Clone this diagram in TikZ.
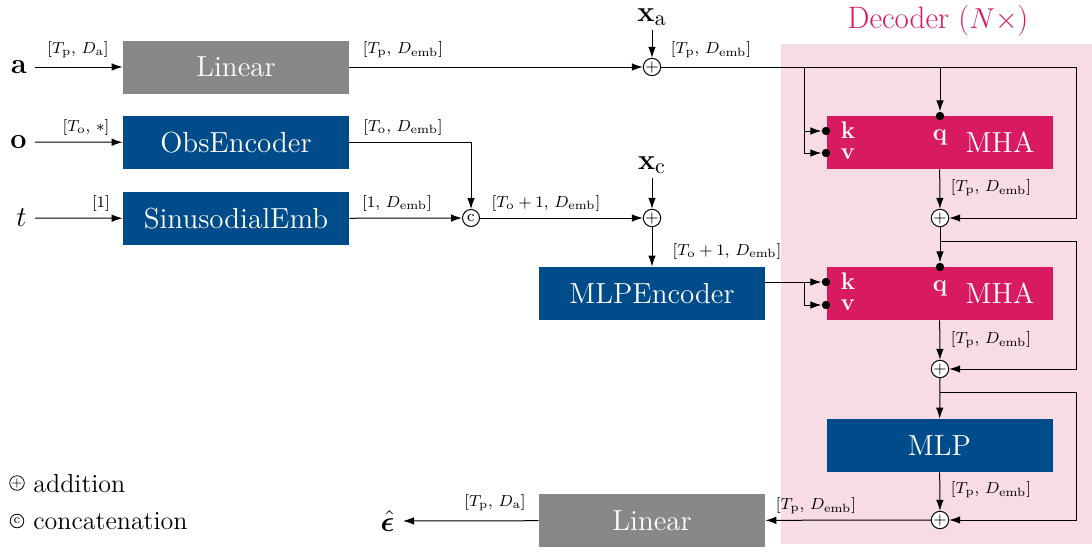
\documentclass[tikz,border=0pt]{standalone}
\usepackage{amsmath,amssymb,bm}
\usetikzlibrary{arrows.meta,calc}
\definecolor{dblue}{HTML}{004C8A}
\definecolor{dpink}{HTML}{D81B60}
\definecolor{lpink}{HTML}{F8DCE5}
\definecolor{dgray}{HTML}{888888}
\newcommand{\boxfont}{\fontsize{14.5}{17}\selectfont}
\newcommand{\legfont}{\fontsize{13}{16}\selectfont}
\newcommand{\lblfont}{\fontsize{8}{10}\selectfont}
\newcommand{\inpfont}{\fontsize{15}{18}\selectfont}
\tikzset{
  blk/.style={minimum width=113pt, minimum height=26.5pt, inner sep=0pt, text=white, font=\boxfont},
  graybox/.style={blk, fill=dgray},
  bluebox/.style={blk, fill=dblue},
  pinkbox/.style={blk, fill=dpink},
  opnode/.style={circle, draw, fill=white, inner sep=0pt, minimum size=8.5pt, line width=0.5pt, font=\fontsize{8}{8}\selectfont},
  legop/.style={circle, draw, inner sep=0pt, minimum size=6.8pt, line width=0.4pt, font=\fontsize{6.5}{6.5}\selectfont},
  dotnode/.style={circle, fill=black, inner sep=0pt, minimum size=4.2pt},
  lbl/.style={font=\lblfont, inner sep=0pt},
  inp/.style={font=\inpfont, inner sep=4pt},
  kvq/.style={font=\fontsize{11.5}{12}\selectfont, text=white, inner sep=0pt},
  conn/.style={line width=0.5pt},
  arr/.style={conn, -{Latex[length=5.5pt,width=3.8pt]}},
}
\begin{document}
\begin{tikzpicture}[x=0.5pt,y=-0.5pt]
\useasboundingbox (0,0) rectangle (1092,552);
% decoder background
\fill[lpink] (781,44) rectangle (1092,544);
\node[text=dpink, font=\fontsize{15.5}{18}\selectfont] (dectitle) at (938,21) {Decoder ($N\times$)};

% blocks
\node[graybox] (lin1) at (236,67) {Linear};
\node[bluebox] (obs) at (236,142.5) {ObsEncoder};
\node[bluebox] (sin) at (236,218.5) {SinusodialEmb};
\node[bluebox] (mlpenc) at (652,293.5) {MLPEncoder};
\node[pinkbox] (mha1) at (939.5,142.5) {};
\node[pinkbox] (mha2) at (939.5,293.5) {};
\node[bluebox] (mlp) at (939.5,445.5) {MLP};
\node[graybox] (lin2) at (652,520.5) {Linear};
\node[text=white, font=\boxfont, inner sep=0pt] (mhat1) at (1000,142.5) {MHA};
\node[text=white, font=\boxfont, inner sep=0pt] (mhat2) at (1000,293.5) {MHA};

% inputs
\node[inp, anchor=east] (a) at (35,67) {$\mathbf{a}$};
\node[inp, anchor=east] (o) at (35,142) {$\mathbf{o}$};
\node[inp, anchor=east] (t) at (35,218) {$t$};
\node[inp, inner sep=2pt] (xa) at (652,17) {$\mathbf{x}_\mathrm{a}$};
\node[inp, inner sep=2pt] (xc) at (652,165) {$\mathbf{x}_\mathrm{c}$};
\node[inp, anchor=east] (eps) at (403,521) {$\hat{\bm{\epsilon}}$};

% operators
\node[opnode] (pa) at (652,67) {$+$};
\node[opnode] (cat) at (471,218) {c};
\node[opnode] (pc) at (652,218) {$+$};
\node[opnode] (p1) at (940,218) {$+$};
\node[opnode] (p2) at (940,369) {$+$};
\node[opnode] (p3) at (940,520) {$+$};

% attention ports
\node[dotnode] (k1) at (826,131) {};
\node[dotnode] (v1) at (826,153) {};
\node[dotnode] (q1) at (940,116) {};
\node[dotnode] (k2) at (826,282) {};
\node[dotnode] (v2) at (826,305) {};
\node[dotnode] (q2) at (940,267) {};
\node[kvq] (k1t) at (848,130) {$\mathbf{k}$};
\node[kvq] (v1t) at (848,154) {$\mathbf{v}$};
\node[kvq] (q1t) at (940,137) {$\mathbf{q}$};
\node[kvq] (k2t) at (848,281) {$\mathbf{k}$};
\node[kvq] (v2t) at (848,305) {$\mathbf{v}$};
\node[kvq] (q2t) at (940,288) {$\mathbf{q}$};

% routing coordinates
\coordinate (brx) at (804,0);
\coordinate (rx) at (1076,0);
\coordinate (r1) at (940,241);
\coordinate (r2) at (940,392);

% connectors
\draw[arr] (a) -- (lin1);
\draw[arr] (o) -- (obs);
\draw[arr] (t) -- (sin);
\draw[arr] (lin1) -- (pa);
\draw[arr] (xa) -- (pa);
\draw[arr] (obs.east) -| (cat);
\draw[arr] (sin) -- (cat);
\draw[arr] (cat) -- (pc);
\draw[arr] (xc) -- (pc);
\draw[arr] (pc) -- (mlpenc);

% decoder layer 1
\draw[conn] (pa.east) -- (rx |- pa);
\draw[arr] (rx |- pa) -- (rx |- p1) -- (p1);
\draw[arr] (q1 |- pa) -- (q1);
\draw[arr] (brx |- pa) |- (k1);
\draw[arr] (brx |- k1) |- (v1);
\draw[arr] (mha1) -- (p1);
% layer 2
\draw[arr] (p1) -- (q2);
\draw[arr] (r1) -- (rx |- r1) -- (rx |- p2) -- (p2);
\draw[arr] (mlpenc.east |- k2) -- (k2);
\draw[arr] (brx |- k2) |- (v2);
\draw[arr] (mha2) -- (p2);
% MLP
\draw[arr] (p2) -- (mlp);
\draw[arr] (r2) -- (rx |- r2) -- (rx |- p3) -- (p3);
\draw[arr] (mlp) -- (p3);
\draw[arr] (p3) -- (lin2);
\draw[arr] (lin2) -- (eps);

% dimension labels
\node[lbl] (l1) at (78,50) {$[T_\mathrm{p},\,D_\mathrm{a}]$};
\node[lbl] (l2) at (86,127) {$[T_\mathrm{o},\,*]$};
\node[lbl] (l3) at (101,203) {$[1]$};
\node[lbl] (l4) at (403,50) {$[T_\mathrm{p},\,D_\mathrm{emb}]$};
\node[lbl] (l5) at (403,127) {$[T_\mathrm{o},\,D_\mathrm{emb}]$};
\node[lbl] (l6) at (397,203) {$[1,\,D_\mathrm{emb}]$};
\node[lbl] (l7) at (711,50) {$[T_\mathrm{p},\,D_\mathrm{emb}]$};
\node[lbl] (l8) at (546,203) {$[T_\mathrm{o}+1,\,D_\mathrm{emb}]$};
\node[lbl] (l9) at (727,251) {$[T_\mathrm{o}+1,\,D_\mathrm{emb}]$};
\node[lbl] (l10) at (991,188) {$[T_\mathrm{p},\,D_\mathrm{emb}]$};
\node[lbl] (l11) at (991,340) {$[T_\mathrm{p},\,D_\mathrm{emb}]$};
\node[lbl] (l12) at (991,490) {$[T_\mathrm{p},\,D_\mathrm{emb}]$};
\node[lbl] (l13) at (816,506) {$[T_\mathrm{p},\,D_\mathrm{emb}]$};
\node[lbl] (l14) at (495,503) {$[T_\mathrm{p},\,D_\mathrm{a}]$};

% legend
\node[legop] (lg1) at (17,483) {$+$};
\node[legop] (lg2) at (17,521) {c};
\node[font=\legfont, anchor=west, inner sep=0pt] (lg1t) at (33,484) {addition};
\node[font=\legfont, anchor=west, inner sep=0pt] (lg2t) at (33,521) {concatenation};
\end{tikzpicture}
\end{document}
